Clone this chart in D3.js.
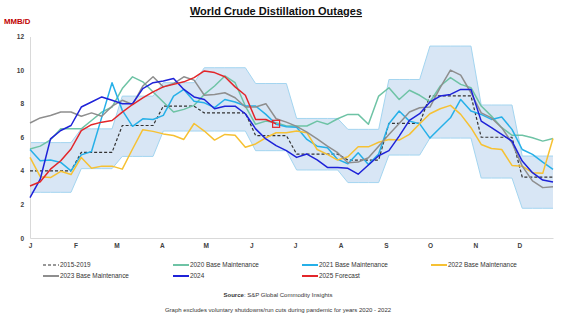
<!DOCTYPE html>
<html><head><meta charset="utf-8">
<script src="https://cdn.jsdelivr.net/npm/d3@7"></script>
<style>body{margin:0;background:#fff}svg{display:block;font-family:"Liberation Sans",Arial,sans-serif}</style>
</head><body><svg id="c" width="564" height="321"></svg>
<script>
// ---- data ----
const weeks = ["2025-01-01","2025-01-08","2025-01-15","2025-01-22","2025-01-29","2025-02-05","2025-02-12","2025-02-19","2025-02-26","2025-03-05","2025-03-12","2025-03-19","2025-03-26","2025-04-02","2025-04-09","2025-04-16","2025-04-23","2025-04-30","2025-05-07","2025-05-14","2025-05-21","2025-05-28","2025-06-04","2025-06-11","2025-06-18","2025-06-25","2025-07-02","2025-07-09","2025-07-16","2025-07-23","2025-07-30","2025-08-06","2025-08-13","2025-08-20","2025-08-27","2025-09-03","2025-09-10","2025-09-17","2025-09-24","2025-10-01","2025-10-08","2025-10-15","2025-10-22","2025-10-29","2025-11-05","2025-11-12","2025-11-19","2025-11-26","2025-12-03","2025-12-10","2025-12-17","2025-12-24"];
const monthTicks = ["2025-01-01","2025-02-01","2025-03-01","2025-04-01","2025-05-01","2025-06-01","2025-07-01","2025-08-01","2025-09-01","2025-10-01","2025-11-01","2025-12-01"];
const monthLabels = ["J","F","M","A","M","J","J","A","S","O","N","D"];
const yTicks = [0,2,4,6,8,10,12];

const bandUpper = [5.68,5.68,5.68,5.68,5.68, 6.5,6.5,6.5,6.5, 8.45,8.45,8.45,8.45, 9.25,9.25,9.25,9.25, 10.14,10.14,10.14,10.14,10.14, 9.2,9.2,9.2,9.2, 7.12,7.12,7.12,7.12,7.12, 6.47,6.47,6.47,6.47, 9.44,9.44,9.44,9.44, 11.43,11.43,11.43,11.43,11.43, 7.92,7.92,7.92,7.92, 4.88,4.88,4.88,4.88];
const bandLower = [2.72,2.72,2.72,2.72,2.72, 4.13,4.13,4.13,4.13, 4.86,4.86,4.86,4.86, 6.37,6.37,6.37,6.37, 6.37,6.37,6.37,6.37,6.37, 5.2,5.2,5.2,5.2, 4.05,4.05,4.05,4.05,4.05, 3.3,3.3,3.3,3.3, 4.94,4.94,4.94,4.94, 5.95,5.95,5.95,5.95,5.95, 3.57,3.57,3.57,3.57, 1.77,1.77,1.77,1.77];

const avg2015_2019 = [4.0,4.0,4.0,4.0,4.0, 5.1,5.1,5.1,5.1, 6.7,6.7,6.7,6.7, 7.85,7.85,7.85,7.85, 7.45,7.45,7.45,7.45,7.45, 6.1,6.1,6.1,6.1, 5.0,5.0,5.0,5.0,5.0, 4.64,4.64,4.64,4.64, 6.83,6.83,6.83,6.83, 8.47,8.47,8.47,8.47,8.47, 6.0,6.0,6.0,6.0, 3.62,3.62,3.62,3.62];
const base2020 = [5.3,5.47,5.85,6.5,6.5, 6.5,7.0,7.5,7.8, 8.9,9.6,9.3,8.7, 8.1,7.5,7.66,7.9, 8.55,9.05,9.65,9.25,7.86, 6.77,6.96,6.87,6.67, 6.67,6.67,6.96,6.77,7.1, 7.36,7.36,6.77,8.45, 8.95,8.25,8.8,8.5, 8.1,9.05,9.55,9.15,8.95, 7.86,7.26,6.57,6.12, 6.12,5.97,5.77,5.93];
const base2021 = [5.27,4.6,4.65,4.5,4.0, 4.95,5.15,7.2,9.25, 7.6,6.65,7.1,7.06, 7.3,8.45,8.85,8.15, 8.05,7.76,8.25,8.1,7.86, 7.86,7.36,6.77,6.63, 6.6,5.87,5.47,5.37,4.68, 4.42,5.08,4.38,5.0, 6.8,7.56,6.96,6.8, 5.95,6.57,7.16,8.25,7.56, 7.36,7.06,7.2,6.47, 5.27,4.98,4.52,4.09];
const base2022 = [4.8,3.65,3.6,3.97,3.78, 4.8,4.15,4.28,4.28, 4.1,5.3,6.45,6.35, 6.2,6.1,5.87,6.82, 6.37,5.83,6.17,6.12,5.4, 5.6,5.97,6.27,6.27, 6.37,6.27,5.27,4.98,4.64, 4.84,5.43,5.43,5.7, 5.87,5.83,6.17,6.8, 7.4,7.7,7.9,7.36,6.57, 5.57,5.33,5.27,4.32, 4.28,3.89,3.85,5.93];
const base2023 = [6.85,7.15,7.3,7.5,7.5, 7.25,7.45,7.25,7.85, 8.2,7.95,9.05,9.6, 9.0,9.2,9.6,9.4, 8.5,8.55,8.65,8.35,7.8, 7.8,8.0,7.1,6.9, 6.65,6.3,5.9,5.47,5.08, 4.48,4.52,4.78,5.47, 6.17,6.82,7.5,7.76, 7.8,8.95,10.0,9.7,8.65, 7.45,7.15,6.57,5.67, 4.28,3.4,3.0,3.05];
const y2024 = [2.4,3.5,5.9,6.4,6.7, 7.8,8.1,8.4,8.2, 8.0,8.0,8.9,9.25, 9.35,9.5,8.85,8.4, 8.25,7.7,7.85,7.85,7.4, 6.5,5.9,5.5,5.2, 4.8,5.0,4.65,4.2,4.2, 4.15,3.8,4.35,4.9, 5.2,6.07,7.0,7.4, 8.1,8.45,8.55,8.85,8.85, 6.96,6.57,6.17,5.77, 4.58,3.89,3.45,3.33];
const forecast2025 = [3.1,3.35,4.1,4.6,5.3, 6.4,6.75,6.9,7.0, 7.5,7.95,8.35,8.7, 9.0,9.15,9.3,9.55, 9.95,9.85,9.6,9.0,8.5, 7.06,7.06,6.8];

const seriesNames = ["2015-2019","2020 Base Maintenance","2021 Base Maintenance","2022 Base Maintenance","2023 Base Maintenance","2024","2025 Forecast"];
const seriesValues = [avg2015_2019, base2020, base2021, base2022, base2023, y2024, forecast2025];
const seriesColors = ["#333333","#6ec3a5","#26b0e8","#f6c133","#8e8e8e","#1e22d8","#e3262a"];

// ---- chart ----
const svg = d3.select("#c");
const parse = d3.utcParse("%Y-%m-%d");
const dates = weeks.map(parse);
const x = d3.scaleUtc().domain([dates[0], dates[dates.length-1]]).range([30, 553]);
const y = d3.scaleLinear().domain([0, 12]).range([238, 36.5]);

// title
svg.append("text").attr("x", 276).attr("y", 15).attr("text-anchor", "middle")
  .attr("font-size", 11).attr("font-weight", "bold").attr("text-decoration", "underline")
  .attr("fill", "#111").text("World Crude Distillation Outages");
svg.append("text").attr("x", 4).attr("y", 24).attr("font-size", 7.8).attr("font-weight", "bold")
  .attr("fill", "#c00000").text("MMB/D");

// band
const bandData = dates.map((d, i) => ({d, lo: bandLower[i], hi: bandUpper[i]}));
svg.append("path").datum(bandData)
  .attr("d", d3.area().x(p => x(p.d)).y0(p => y(p.lo)).y1(p => y(p.hi)))
  .attr("fill", "#d8e6f5");
["lo","hi"].forEach(k => {
  svg.append("path").datum(bandData)
    .attr("d", d3.line().x(p => x(p.d)).y(p => y(p[k])))
    .attr("fill", "none").attr("stroke", "#a3d5f0").attr("stroke-width", 1);
});

// axes
const yAxis = svg.append("g").attr("transform", "translate(30,0)")
  .call(d3.axisLeft(y).tickValues(yTicks).tickSize(0).tickPadding(6));
const xAxis = svg.append("g").attr("transform", "translate(0,238)")
  .call(d3.axisBottom(x).tickValues(monthTicks.map(parse)).tickFormat((d, i) => monthLabels[i]).tickSize(0).tickPadding(5));
[yAxis, xAxis].forEach(g => {
  g.select(".domain").attr("stroke", "#d9d9d9");
  g.selectAll("text").attr("font-size", 6.5).attr("font-weight", "bold").attr("fill", "#404040")
    .attr("font-family", "Liberation Sans, Arial, sans-serif");
});

// lines
const line = d3.line().x((v, i) => x(dates[i])).y(v => y(v));
seriesValues.forEach((vals, s) => {
  svg.append("path").datum(vals).attr("d", line)
    .attr("fill", "none").attr("stroke", seriesColors[s])
    .attr("stroke-width", s === 0 ? 1.2 : 1.5)
    .attr("stroke-dasharray", s === 0 ? "3,2" : null)
    .attr("stroke-linejoin", "round");
});
// forecast end marker
const lastI = forecast2025.length - 1;
svg.append("rect")
  .attr("x", x(dates[lastI]) - 3.5).attr("y", y(forecast2025[lastI]) - 3.5)
  .attr("width", 7).attr("height", 7).attr("fill", "none")
  .attr("stroke", seriesColors[6]).attr("stroke-width", 1.2);

// legend
const legX = [43, 173, 302, 431];
const legY = [265, 276];
seriesNames.forEach((name, s) => {
  const col = s % 4, row = Math.floor(s / 4);
  const g = svg.append("g").attr("transform", `translate(${legX[col]},${legY[row]})`);
  g.append("line").attr("x1", 0).attr("x2", 16).attr("y1", 0).attr("y2", 0)
    .attr("stroke", seriesColors[s]).attr("stroke-width", s === 0 ? 1.2 : 2)
    .attr("stroke-dasharray", s === 0 ? "3,2" : null);
  g.append("text").attr("x", 17).attr("y", 2.2).attr("font-size", 6.4).attr("fill", "#333").text(name);
});

// footer
const src = svg.append("text").attr("x", 278).attr("y", 297).attr("text-anchor", "middle")
  .attr("font-size", 6).attr("fill", "#333");
src.append("tspan").attr("font-weight", "bold").text("Source");
src.append("tspan").text(": S&P Global Commodity Insights");
svg.append("text").attr("x", 278).attr("y", 312).attr("text-anchor", "middle")
  .attr("font-size", 6).attr("fill", "#333")
  .text("Graph excludes voluntary shutdowns/run cuts during pandemic for years 2020  - 2022");
</script></body></html>
